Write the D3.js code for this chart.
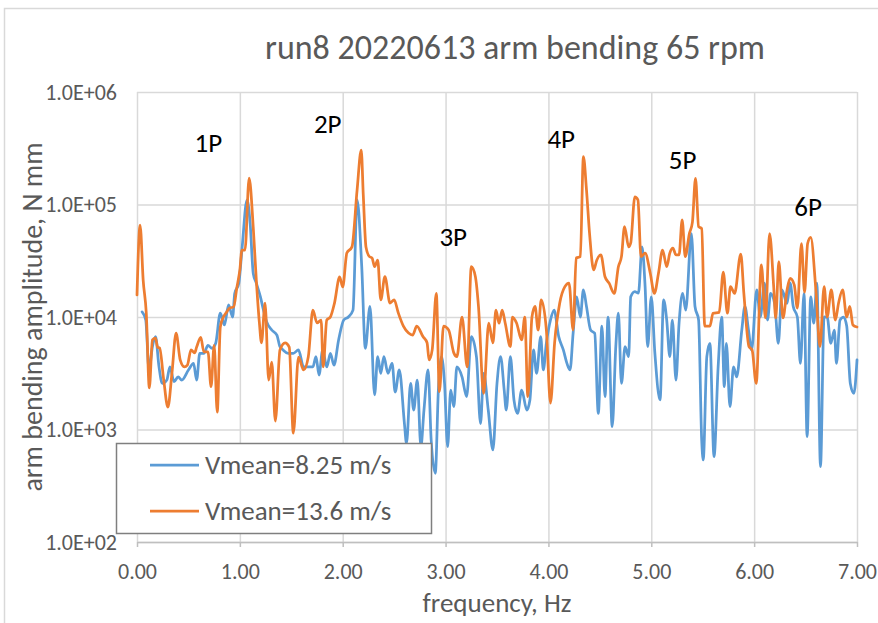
<!DOCTYPE html>
<html>
<head>
<meta charset="utf-8">
<script src="https://cdn.jsdelivr.net/npm/d3@7"></script>
<style>
  html, body { margin: 0; padding: 0; background: #fff; }
  svg { display: block; }
  text { font-family: Carlito, Calibri, "Open Sans", sans-serif; }
</style>
</head>
<body>
<svg id="chart" width="878" height="623"></svg>
<script>
// Arm bending spectrum, run8 20220613, 65 rpm
const chartTitle = "run8 20220613 arm bending 65 rpm";
const xTitle = "frequency, Hz";
const yTitle = "arm bending amplitude, N mm";

const xTicks = [0, 1, 2, 3, 4, 5, 6, 7];
const xTickLabels = ["0.00", "1.00", "2.00", "3.00", "4.00", "5.00", "6.00", "7.00"];
const yTicks = [1e2, 1e3, 1e4, 1e5, 1e6];
const yTickLabels = ["1.0E+02", "1.0E+03", "1.0E+04", "1.0E+05", "1.0E+06"];

const seriesNames = ["Vmean=8.25 m/s", "Vmean=13.6 m/s"];

// rotor harmonics annotations: label, frequency, amplitude at label baseline
const harmonicLabels = ["1P", "2P", "3P", "4P", "5P", "6P"];
const harmonicFreq = [0.56, 1.72, 2.94, 3.99, 5.17, 6.39];
const harmonicAmp = [2.93e5, 4.3e5, 4.28e4, 3.18e5, 2.07e5, 7.9e4];

// Vmean = 8.25 m/s
const freqBlue = [0.05,0.085,0.117,0.15,0.18,0.214,0.246,0.29,0.32,0.36,0.40,0.435,0.50,0.55,0.58,0.61,0.65,0.69,0.73,0.765,
  0.81,0.85,0.89,0.93,0.95,0.99,1.02,1.07,1.10,1.13,1.16,1.20,1.23,1.26,1.31,1.36,1.39,1.42,1.47,1.52,
  1.57,1.62,1.665,1.71,1.74,1.77,1.805,1.845,1.88,1.915,1.96,2.01,2.055,2.10,2.14,2.185,2.22,2.265,2.31,2.34,
  2.37,2.40,2.44,2.48,2.51,2.55,2.60,2.62,2.66,2.69,2.725,2.76,2.79,2.83,2.86,2.90,2.93,2.96,2.99,3.02,
  3.05,3.08,3.11,3.16,3.205,3.25,3.30,3.34,3.37,3.415,3.46,3.50,3.535,3.57,3.59,3.63,3.665,3.70,3.74,3.79,
  3.82,3.855,3.885,3.925,3.95,3.98,4.02,4.055,4.10,4.145,4.18,4.21,4.24,4.275,4.31,4.34,4.37,4.41,4.45,4.485,
  4.52,4.55,4.58,4.62,4.655,4.68,4.71,4.745,4.78,4.80,4.84,4.875,4.91,4.94,4.965,5.00,5.035,5.085,5.12,5.15,
  5.18,5.205,5.24,5.27,5.305,5.335,5.39,5.425,5.46,5.49,5.505,5.54,5.57,5.61,5.65,5.685,5.71,5.73,5.765,5.80,
  5.83,5.88,5.91,5.945,5.975,6.025,6.06,6.10,6.13,6.16,6.20,6.235,6.27,6.32,6.35,6.38,6.42,6.45,6.485,6.515,
  6.55,6.58,6.61,6.645,6.68,6.71,6.745,6.78,6.80,6.835,6.87,6.90,6.935,6.97,7.00];
const ampBlue = [11100,9400,3380,5450,6700,3600,2570,2750,3600,2660,2940,2750,3380,3870,2750,4750,4750,5600,5270,5840,
  10800,8500,12800,10000,16200,20000,39400,110000,68000,24500,20000,15100,11500,9100,7660,6900,5450,5100,4750,4750,
  5100,3600,3600,3600,4440,3050,5100,3600,4750,3740,6250,9400,10000,11500,110000,28000,5270,12400,2030,4440,
  3160,4440,3160,3870,2150,3380,1130,754,2570,1490,2750,703,1490,3380,807,408,2240,4440,2570,703,
  2240,1600,3600,2940,1960,6700,4440,1130,3160,1490,658,2570,4440,2240,1490,4440,1830,1390,2240,1490,
  1830,5100,3160,6700,3380,5840,9400,11500,6700,5100,3870,3380,7160,15100,10000,17400,12400,7660,7160,1390,
  8300,1960,10000,1060,5450,10800,2570,5450,4440,15100,16800,16300,42000,18600,5450,15100,4750,1830,14200,9400,
  4440,9400,2750,8800,16200,11500,55000,12400,9400,807,536,4440,5840,574,3600,10000,2400,5840,1600,3600,
  2940,7660,12400,7660,5100,17400,10000,20000,9400,16200,13000,5840,17400,13200,20000,12400,10000,3870,16200,863,
  15100,8800,20000,467,10000,10000,5840,7660,3870,9400,10000,8300,2570,2100,4150];

// Vmean = 13.6 m/s
const freqOrange = [0.00,0.03,0.06,0.09,0.12,0.15,0.18,0.20,0.22,0.26,0.30,0.34,0.38,0.42,0.46,0.49,0.525,0.56,0.58,0.62,
  0.65,0.69,0.72,0.75,0.78,0.81,0.84,0.87,0.90,0.94,0.97,1.00,1.02,1.05,1.09,1.13,1.16,1.19,1.21,1.245,
  1.28,1.31,1.345,1.39,1.44,1.48,1.52,1.57,1.62,1.665,1.71,1.75,1.79,1.81,1.845,1.88,1.92,1.97,2.00,2.04,
  2.09,2.14,2.18,2.20,2.226,2.26,2.285,2.31,2.34,2.37,2.41,2.46,2.50,2.54,2.59,2.64,2.68,2.72,2.78,2.82,
  2.84,2.87,2.91,2.94,2.98,3.03,3.08,3.11,3.16,3.21,3.25,3.29,3.32,3.37,3.42,3.46,3.49,3.52,3.55,3.58,
  3.63,3.65,3.69,3.74,3.77,3.80,3.84,3.87,3.90,3.93,3.98,4.02,4.06,4.11,4.16,4.20,4.24,4.27,4.31,4.34,
  4.37,4.40,4.44,4.47,4.51,4.55,4.59,4.64,4.68,4.71,4.74,4.78,4.80,4.84,4.87,4.90,4.94,4.99,5.03,5.07,
  5.11,5.15,5.18,5.21,5.24,5.27,5.30,5.33,5.37,5.40,5.43,5.46,5.49,5.52,5.57,5.60,5.66,5.70,5.74,5.77,
  5.81,5.87,5.90,5.95,5.98,6.02,6.07,6.11,6.15,6.19,6.21,6.24,6.28,6.32,6.35,6.39,6.42,6.46,6.49,6.52,
  6.55,6.60,6.64,6.68,6.71,6.75,6.79,6.82,6.86,6.90,6.93,6.96,7.00];
const ampOrange = [15700,65700,21300,10900,2340,6250,6500,5400,5300,2750,1580,3180,7200,4150,3600,3740,5100,4800,5400,6600,
  4900,4900,2400,5600,1430,8150,10000,11000,12000,12300,18100,26200,39400,39400,172000,63000,21300,8850,5900,13300,
  2750,3980,1190,5100,5900,5400,930,4400,3380,4400,11500,8850,9400,3600,9400,10000,13300,22700,18500,37000,
  42000,135000,305000,121000,42000,34400,33500,28000,32000,14200,22800,13300,14200,10900,8300,7200,6900,8300,6700,5900,
  4150,5100,16200,2170,8300,7660,4800,4440,10000,3600,28000,22800,12400,2100,8800,5900,11500,8800,11500,8800,
  5450,10000,8850,6250,10000,1960,10000,12400,7660,14200,7660,1720,5900,13300,18600,20000,7660,33500,34400,266000,
  135000,55000,26200,32000,35600,22800,20000,16200,28000,34400,63500,42000,45500,117000,110000,34400,37000,24500,16200,24500,
  39400,28000,37000,41000,35600,35600,73000,34400,55000,69800,171000,63500,61000,8300,8300,10800,11000,25000,10800,18600,
  16200,36300,16200,5450,5100,2570,29000,9800,55000,18600,9800,31000,9800,17400,22000,19300,12000,45000,16600,45000,
  51000,17400,5450,18600,10000,17400,9400,13200,17400,10000,12400,8500,8150];

const colors = ["#5B9BD5", "#ED7D31"];
const textGray = "#595959";
const fontStack = "Carlito, Calibri, 'Open Sans', sans-serif";

const svg = d3.select("#chart");

// outer chart frame
svg.append("rect")
  .attr("x", 4.5).attr("y", 8.5)
  .attr("width", 900).attr("height", 700)
  .attr("fill", "#fff")
  .attr("stroke", "#d9d9d9").attr("stroke-width", 1.5);

const plot = { left: 137, right: 857, top: 92, bottom: 542 };

const x = d3.scaleLinear().domain([0, 7]).range([plot.left, plot.right]);
const y = d3.scaleLog().domain([1e2, 1e6]).range([plot.bottom, plot.top]);

// gridlines
const gridX = svg.append("g")
  .attr("transform", `translate(0,${plot.top})`)
  .call(d3.axisBottom(x).tickValues(xTicks).tickSize(plot.bottom - plot.top).tickFormat(""));
gridX.select(".domain").remove();
gridX.selectAll("line").attr("stroke", "#d9d9d9").attr("stroke-width", 1.5);

const gridY = svg.append("g")
  .attr("transform", `translate(${plot.left},0)`)
  .call(d3.axisRight(y).tickValues(yTicks).tickSize(plot.right - plot.left).tickFormat(""));
gridY.select(".domain").remove();
gridY.selectAll("line").attr("stroke", "#d9d9d9").attr("stroke-width", 1.5);

// x axis
const xAxis = svg.append("g")
  .attr("transform", `translate(0,${plot.bottom})`)
  .call(d3.axisBottom(x).tickValues(xTicks).tickSize(5).tickSizeOuter(0)
    .tickFormat((d, i) => xTickLabels[i]));
xAxis.select(".domain").attr("stroke", "#bfbfbf").attr("stroke-width", 1.5);
xAxis.selectAll("line").attr("stroke", "#bfbfbf").attr("stroke-width", 1.5);
xAxis.selectAll("text")
  .attr("fill", textGray).attr("font-size", 22).attr("dy", null).attr("y", 37)
  .style("font-family", fontStack);

// y axis labels
const yAxis = svg.append("g")
  .attr("transform", `translate(${plot.left},0)`)
  .call(d3.axisLeft(y).tickValues(yTicks).tickSize(0)
    .tickFormat((d, i) => yTickLabels[i]));
yAxis.select(".domain").remove();
yAxis.selectAll("text")
  .attr("fill", textGray).attr("font-size", 22).attr("x", -20)
  .style("font-family", fontStack);

// series lines
const line = d3.line()
  .x(d => x(d[0]))
  .y(d => y(d[1]))
  .curve(d3.curveMonotoneX);

const series = [
  d3.zip(freqBlue, ampBlue),
  d3.zip(freqOrange, ampOrange)
];

svg.append("g").selectAll("path")
  .data(series)
  .join("path")
  .attr("d", line)
  .attr("fill", "none")
  .attr("stroke", (d, i) => colors[i])
  .attr("stroke-width", 2.75)
  .attr("stroke-linejoin", "round")
  .attr("stroke-linecap", "round");

// harmonic labels
svg.append("g").selectAll("text")
  .data(harmonicLabels)
  .join("text")
  .attr("x", (d, i) => x(harmonicFreq[i]))
  .attr("y", (d, i) => y(harmonicAmp[i]))
  .attr("fill", "#000")
  .attr("font-size", 27)
  .text(d => d);

// title
svg.append("text")
  .attr("x", 515).attr("y", 59)
  .attr("text-anchor", "middle")
  .attr("fill", textGray)
  .attr("font-size", 34)
  .text(chartTitle);

// axis titles
svg.append("text")
  .attr("x", (plot.left + plot.right) / 2).attr("y", 612)
  .attr("text-anchor", "middle")
  .attr("fill", textGray)
  .attr("font-size", 27)
  .text(xTitle);

svg.append("text")
  .attr("transform", `translate(42,317) rotate(-90)`)
  .attr("text-anchor", "middle")
  .attr("fill", textGray)
  .attr("font-size", 28)
  .text(yTitle);

// legend
const legend = svg.append("g");
legend.append("rect")
  .attr("x", 116.5).attr("y", 443.5)
  .attr("width", 315).attr("height", 90)
  .attr("fill", "#fff")
  .attr("stroke", "#7f7f7f").attr("stroke-width", 1.5);

const legendItems = legend.selectAll("g")
  .data(seriesNames)
  .join("g")
  .attr("transform", (d, i) => `translate(150,${465 + i * 46})`);
legendItems.append("line")
  .attr("x1", 0).attr("x2", 49)
  .attr("stroke", (d, i) => colors[i])
  .attr("stroke-width", 2.75);
legendItems.append("text")
  .attr("x", 55).attr("dy", "0.35em")
  .attr("fill", textGray)
  .attr("font-size", 27)
  .text(d => d);
</script>
</body>
</html>
